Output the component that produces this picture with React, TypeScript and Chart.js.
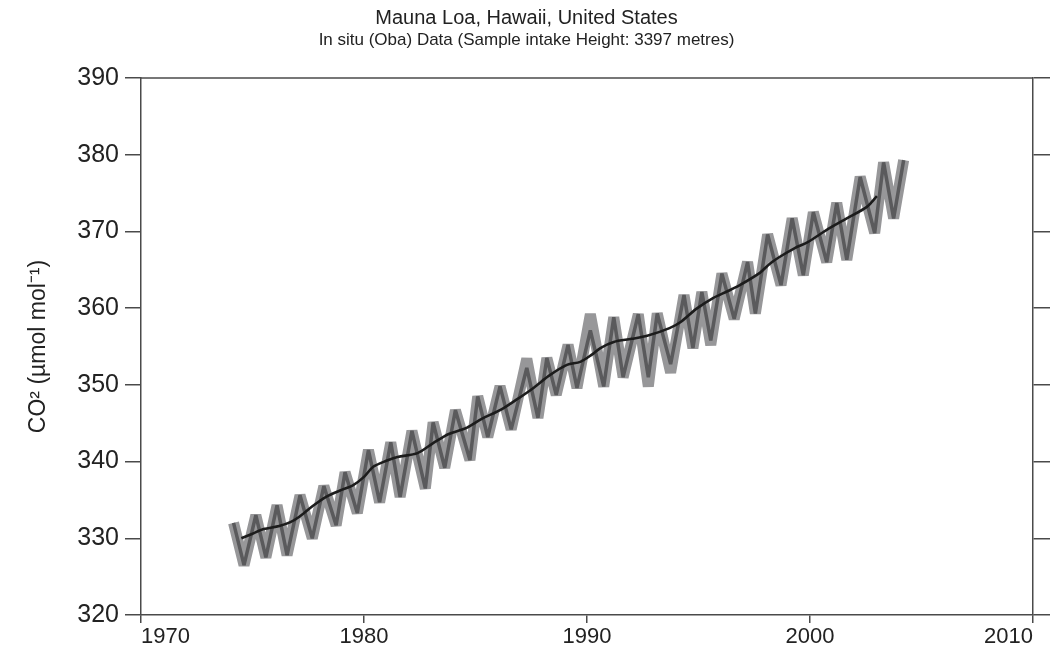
import React, { useEffect, useRef } from "react";
import { Chart, registerables } from "chart.js";

Chart.register(...registerables);

// Seasonal peaks / troughs (decimal year, ppm)
const seasonYears = [
  1974.15, 1974.62, 1975.15, 1975.6, 1976.1, 1976.55, 1977.13, 1977.68, 1978.2, 1978.75,
  1979.15, 1979.7, 1980.2, 1980.7, 1981.2, 1981.62, 1982.15, 1982.75, 1983.1, 1983.62,
  1984.1, 1984.75, 1985.1, 1985.55, 1986.1, 1986.6, 1987.3, 1987.8, 1988.2, 1988.62,
  1989.15, 1989.55, 1990.15, 1990.75, 1991.2, 1991.62, 1992.3, 1992.75, 1993.15, 1993.75,
  1994.35, 1994.75, 1995.15, 1995.55, 1996.05, 1996.6, 1997.2, 1997.55, 1998.1, 1998.7,
  1999.2, 1999.7, 2000.15, 2000.75, 2001.2, 2001.65, 2002.25, 2002.9, 2003.3, 2003.75,
  2004.2,
];
const seasonValues = [
  332.0, 326.5, 333.0, 327.5, 334.3, 327.8, 335.6, 330.0, 336.8, 331.7,
  338.6, 333.3, 341.5, 334.7, 342.5, 335.4, 344.0, 336.5, 345.1, 339.2,
  346.7, 340.2, 348.5, 343.2, 349.8, 344.2, 352.2, 345.7, 353.5, 348.7,
  355.2, 349.6, 357.1, 349.8, 358.8, 351.0, 359.2, 351.0, 359.3, 352.7,
  361.7, 354.8, 362.1, 355.8, 364.5, 358.6, 366.0, 359.3, 369.6, 363.0,
  371.7, 364.3, 372.5, 366.0, 373.7, 366.3, 377.1, 369.8, 379.0, 371.7,
  379.3,
];
// Spread band (same dates, slightly wider at a few months)
const bandValues = [
  332.0, 326.5, 333.0, 327.5, 334.3, 327.8, 335.6, 330.0, 336.8, 331.7,
  338.6, 333.3, 341.5, 334.7, 342.5, 335.4, 344.0, 336.5, 345.1, 339.2,
  346.7, 340.2, 348.5, 343.2, 349.8, 344.2, 353.4, 345.7, 353.5, 348.7,
  355.2, 349.6, 359.2, 349.8, 358.8, 351.0, 359.2, 349.8, 359.3, 351.6,
  361.7, 354.8, 362.1, 355.2, 364.5, 358.6, 366.0, 359.3, 369.6, 363.0,
  371.7, 364.3, 372.5, 366.0, 373.7, 366.3, 377.1, 369.8, 379.0, 371.7,
  379.3,
];
// Smoothed trend
const trendYears = [
  1974.5, 1975.0, 1975.5, 1976.2, 1976.7, 1977.1, 1977.7, 1978.3, 1978.9, 1979.5,
  1980.0, 1980.4, 1981.0, 1981.5, 1982.4, 1983.1, 1983.8, 1984.6, 1985.3, 1986.1,
  1986.8, 1987.6, 1988.3, 1989.1, 1989.7, 1990.2, 1990.6, 1991.2, 1992.0, 1992.7,
  1993.7, 1994.2, 1994.9, 1995.65, 1996.3, 1996.85, 1997.75, 1998.2, 1998.65, 1999.3,
  1999.9, 2000.75, 2001.65, 2002.55, 2003.0,
];
const trendValues = [
  330.0, 330.6, 331.2, 331.6, 332.1, 332.8, 334.2, 335.4, 336.2, 336.9,
  338.0, 339.3, 340.1, 340.6, 341.1, 342.4, 343.6, 344.4, 345.6, 346.7,
  348.0, 349.6, 351.2, 352.6, 353.0, 353.9, 354.8, 355.6, 356.0, 356.4,
  357.4, 358.2, 359.9, 361.3, 362.2, 363.0, 364.6, 365.8, 366.7, 367.8,
  368.6, 370.2, 371.7, 373.2, 374.6,
];

const xTicks = [1970, 1980, 1990, 2000, 2010];
const yTicks = [320, 330, 340, 350, 360, 370, 380, 390];

const TITLE = "Mauna Loa, Hawaii, United States";
const SUBTITLE = "In situ (Oba) Data (Sample intake Height: 3397 metres)";
const Y_TITLE = "CO\u00B2 (\u00B5mol mol\u207B\u00B9)";

const FONT = "'Liberation Sans', Arial, Helvetica, sans-serif";
const AXIS = "#4a4a4a";
const TEXT = "#222";

export default function App() {
  const ref = useRef<HTMLCanvasElement | null>(null);

  useEffect(() => {
    document.body.style.margin = "0";
    const canvas = ref.current;
    if (!canvas) return;

    const frame = {
      id: "frame",
      afterDatasetsDraw(chart: any) {
        const { ctx, chartArea } = chart;
        ctx.save();
        ctx.strokeStyle = AXIS;
        ctx.lineWidth = 1.5;
        ctx.beginPath();
        ctx.moveTo(chartArea.left, chartArea.top);
        ctx.lineTo(chartArea.right, chartArea.top);
        ctx.stroke();
        ctx.restore();
      },
    };

    const seasonPts = seasonYears.map((x, i) => ({ x, y: seasonValues[i] }));
    const bandPts = seasonYears.map((x, i) => ({ x, y: bandValues[i] }));
    const trendPts = trendYears.map((x, i) => ({ x, y: trendValues[i] }));

    const chart = new Chart(canvas, {
      type: "line",
      data: {
        datasets: [
          {
            label: "trend",
            data: trendPts,
            borderColor: "#1c1c1c",
            borderWidth: 2.6,
            pointRadius: 0,
            tension: 0.3,
            fill: false,
            order: 0,
          },
          {
            label: "monthly",
            data: seasonPts,
            borderColor: "#5a5a5c",
            borderWidth: 3.5,
            pointRadius: 0,
            tension: 0,
            borderJoinStyle: "bevel",
            fill: false,
            order: 1,
          },
          {
            label: "band",
            data: bandPts,
            borderColor: "#979799",
            borderWidth: 11,
            pointRadius: 0,
            tension: 0,
            borderJoinStyle: "bevel",
            borderCapStyle: "butt",
            fill: false,
            order: 2,
          },
        ],
      },
      options: {
        responsive: false,
        animation: false,
        devicePixelRatio: 1,
        layout: { padding: 0 },
        plugins: {
          legend: { display: false },
          tooltip: { enabled: false },
          title: {
            display: true,
            text: TITLE,
            color: TEXT,
            font: { family: FONT, size: 20, weight: "normal" },
            padding: { top: 6, bottom: 0 },
          },
          subtitle: {
            display: true,
            text: SUBTITLE,
            color: TEXT,
            font: { family: FONT, size: 17, weight: "normal" },
            padding: { top: 0, bottom: 27.6 },
          },
        },
        scales: {
          x: {
            type: "linear",
            min: 1970,
            max: 2010,
            afterBuildTicks: (s: any) => {
              s.ticks = xTicks.map((v) => ({ value: v }));
            },
            afterFit: (s: any) => {
              s.height = 46;
              s.paddingLeft = 0;
              s.paddingRight = 0;
            },
            ticks: {
              color: TEXT,
              font: { family: FONT, size: 22 },
              padding: 1,
              align: "inner",
              maxRotation: 0,
              autoSkip: false,
              callback: (v: any) => String(v),
            },
            grid: {
              drawOnChartArea: false,
              drawTicks: true,
              tickLength: 8,
              color: AXIS,
              lineWidth: 1.5,
            },
            border: { display: true, color: AXIS, width: 1.5 },
          },
          y: {
            type: "linear",
            position: "left",
            min: 320,
            max: 390,
            afterBuildTicks: (s: any) => {
              s.ticks = yTicks.map((v) => ({ value: v }));
            },
            afterFit: (s: any) => {
              s.width = 141;
            },
            ticks: {
              color: TEXT,
              font: { family: FONT, size: 25 },
              padding: 6,
              autoSkip: false,
              callback: (v: any) => String(v),
            },
            title: {
              display: true,
              text: Y_TITLE,
              color: TEXT,
              font: { family: FONT, size: 23 },
              padding: { top: 25, bottom: 0 },
            },
            grid: {
              drawOnChartArea: false,
              drawTicks: true,
              tickLength: 16,
              color: AXIS,
              lineWidth: 1.5,
            },
            border: { display: true, color: AXIS, width: 1.5 },
          },
          y2: {
            type: "linear",
            position: "right",
            min: 320,
            max: 390,
            afterBuildTicks: (s: any) => {
              s.ticks = yTicks.map((v) => ({ value: v }));
            },
            afterFit: (s: any) => {
              s.width = 20;
            },
            ticks: { display: false },
            grid: {
              drawOnChartArea: false,
              drawTicks: true,
              tickLength: 17,
              color: AXIS,
              lineWidth: 1.5,
            },
            border: { display: true, color: AXIS, width: 1.5 },
          },
        },
      },
      plugins: [frame],
    } as any);

    return () => {
      chart.destroy();
    };
  }, []);

  return (
    <canvas
      ref={ref}
      width={1053}
      height={661}
      style={{ display: "block", width: 1053, height: 661 }}
    />
  );
}
